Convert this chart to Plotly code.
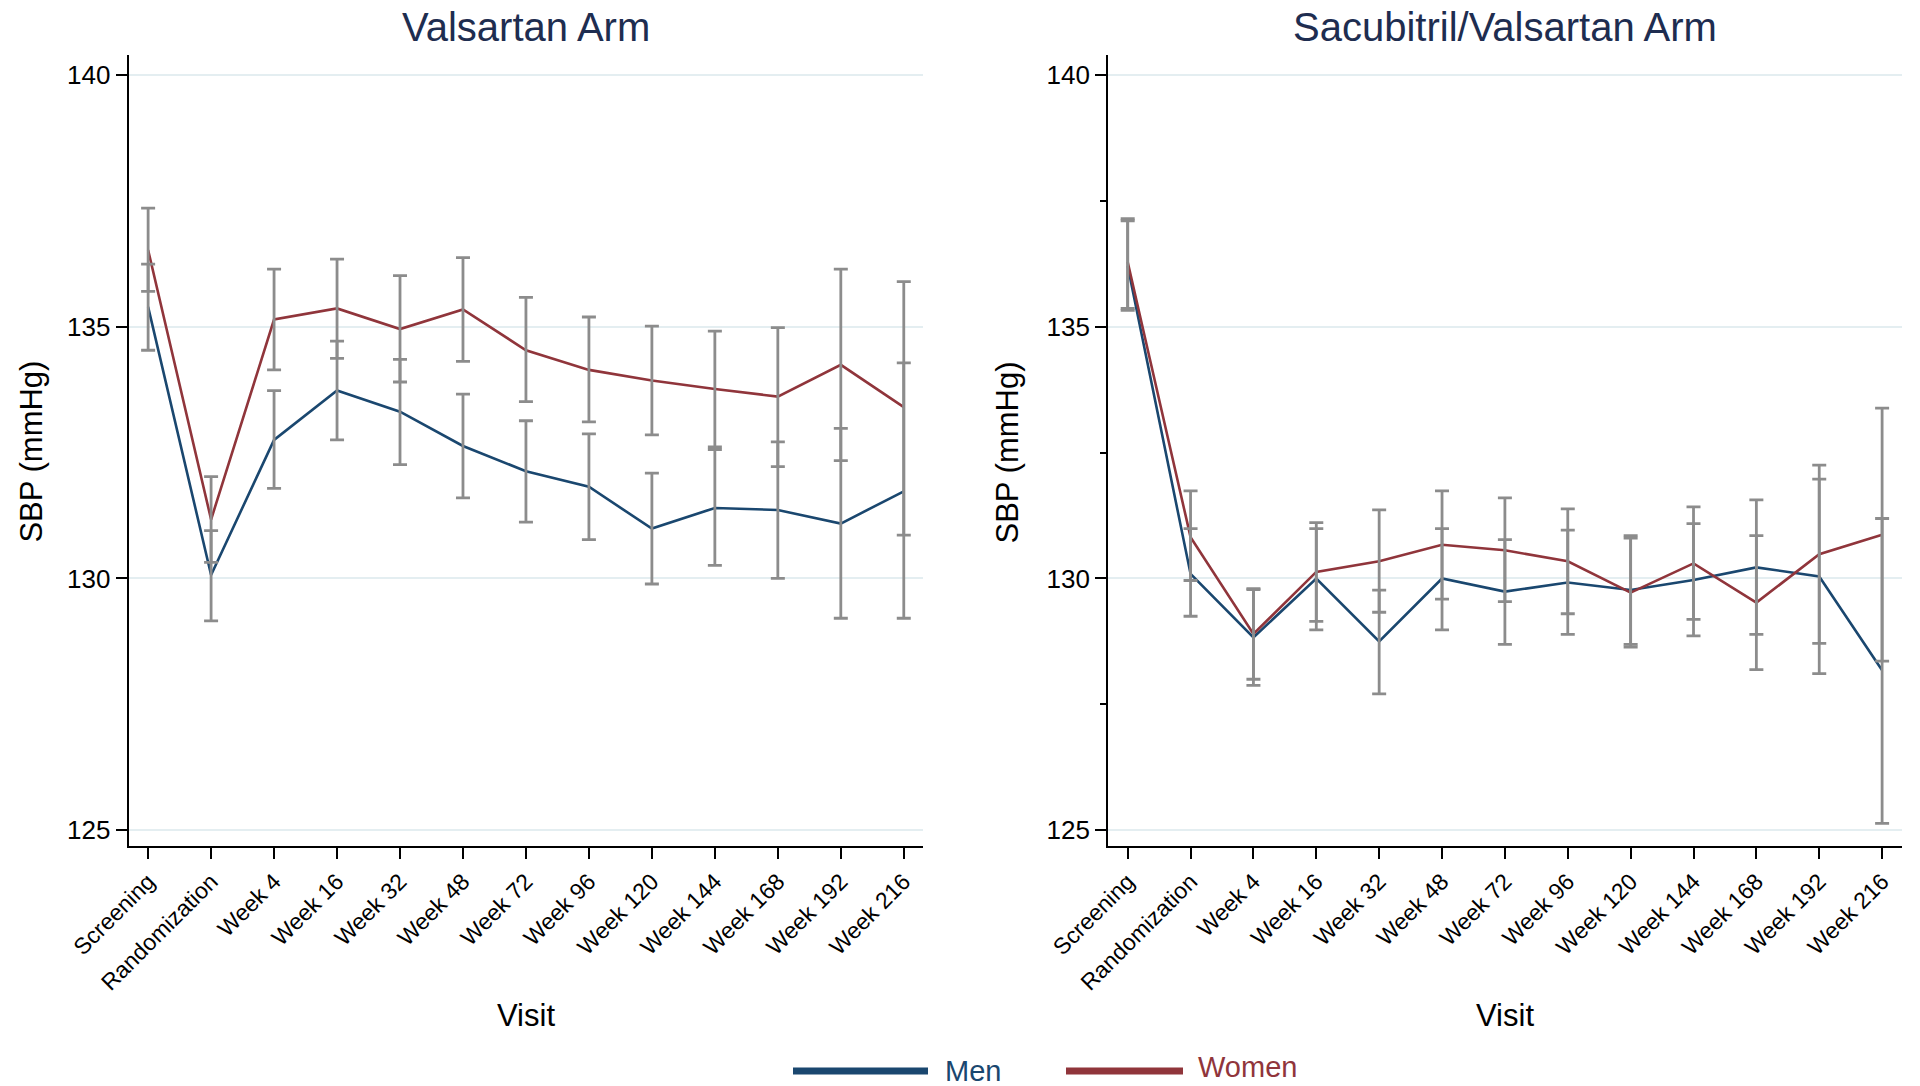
import plotly.graph_objects as go

# ---------------- data ----------------
visits = ["Screening", "Randomization", "Week 4", "Week 16", "Week 32", "Week 48",
          "Week 72", "Week 96", "Week 120", "Week 144", "Week 168", "Week 192", "Week 216"]

# Valsartan arm
val_men_mean = [135.39, 130.07, 132.75, 133.73, 133.31, 132.63, 132.13, 131.82, 130.99, 131.40, 131.36, 131.09, 131.73]
val_men_upper = [136.24, 130.95, 133.73, 134.71, 134.35, 133.66, 133.13, 132.87, 132.09, 132.56, 132.71, 132.98, 134.28]
val_men_lower = [134.53, 129.16, 131.79, 132.75, 132.26, 131.60, 131.12, 130.77, 129.89, 130.26, 130.00, 129.21, 129.21]

val_women_mean = [136.52, 131.17, 135.14, 135.36, 134.95, 135.34, 134.53, 134.14, 133.93, 133.76, 133.61, 134.24, 133.40]
val_women_upper = [137.35, 132.02, 136.14, 136.34, 136.01, 136.37, 135.58, 135.19, 135.01, 134.91, 134.98, 136.14, 135.89]
val_women_lower = [135.70, 130.32, 134.14, 134.37, 133.90, 134.31, 133.51, 133.11, 132.85, 132.61, 132.22, 132.34, 130.86]

# Sacubitril/Valsartan arm
sv_men_mean = [136.20, 130.09, 128.83, 130.00, 128.75, 130.00, 129.74, 129.92, 129.77, 129.97, 130.22, 130.04, 128.18]
sv_men_upper = [137.10, 130.99, 129.78, 130.99, 129.77, 130.99, 130.77, 130.96, 130.85, 131.09, 131.56, 131.97, 131.19]
sv_men_lower = [135.32, 129.25, 127.88, 128.98, 127.71, 128.98, 128.69, 128.89, 128.69, 128.86, 128.89, 128.11, 125.14]

sv_women_mean = [136.28, 130.82, 128.90, 130.13, 130.34, 130.67, 130.56, 130.34, 129.72, 130.30, 129.52, 130.48, 130.87]
sv_women_upper = [137.14, 131.74, 129.80, 131.11, 131.36, 131.74, 131.60, 131.38, 130.80, 131.42, 130.85, 132.25, 133.38]
sv_women_lower = [135.36, 129.96, 128.00, 129.15, 129.33, 129.59, 129.54, 129.30, 128.64, 129.19, 128.19, 128.71, 128.36]

y_ticks = [125, 130, 135, 140]
panel_titles = ["Valsartan Arm", "Sacubitril/Valsartan Arm"]
series_names = ["Men", "Women"]

# ---------------- style ----------------
MEN_COLOR = "#1a476f"
WOMEN_COLOR = "#90353b"
ERR_COLOR = "#8c8c8c"
TITLE_COLOR = "#1e2d50"
GRID_COLOR = "#e4eef1"
FONT = "Liberation Sans, Arial, sans-serif"
W, H = 1920, 1086

fig = go.Figure()

panels = [
    ("x", "y", [(val_men_mean, val_men_upper, val_men_lower, MEN_COLOR, "Men"),
                (val_women_mean, val_women_upper, val_women_lower, WOMEN_COLOR, "Women")]),
    ("x2", "y2", [(sv_men_mean, sv_men_upper, sv_men_lower, MEN_COLOR, "Men"),
                  (sv_women_mean, sv_women_upper, sv_women_lower, WOMEN_COLOR, "Women")]),
]

for xa, ya, series in panels:
    # lines
    for mean, up, lo, col, name in series:
        fig.add_trace(go.Scatter(x=visits, y=mean, mode="lines", name=name,
                                 line=dict(color=col, width=2.6),
                                 xaxis=xa, yaxis=ya, showlegend=False))
    # error bars on top
    for mean, up, lo, col, name in series:
        fig.add_trace(go.Scatter(
            x=visits, y=mean, mode="markers", name=name + " 95% CI",
            marker=dict(size=1, opacity=0),
            error_y=dict(type="data", symmetric=False,
                         array=[u - m for u, m in zip(up, mean)],
                         arrayminus=[m - l for m, l in zip(mean, lo)],
                         color=ERR_COLOR, thickness=2.8, width=7),
            xaxis=xa, yaxis=ya, showlegend=False, hoverinfo="skip"))

yr = [124.69, 140.39]
xr = [-0.31, 12.31]
ydom = [1 - 846 / H, 1 - 55 / H]
xdom1 = [128.6 / W, 923.3 / W]
xdom2 = [1108.2 / W, 1901.6 / W]

common_x = dict(type="category", range=xr, showline=True, linecolor="black", linewidth=2,
                ticks="outside", ticklen=11, tickwidth=1.5, tickcolor="black",
                tickangle=-45, tickfont=dict(family=FONT, size=23, color="black"),
                showgrid=False, zeroline=False, automargin=False)
common_y = dict(range=yr, tickvals=y_ticks, showline=True, linecolor="black", linewidth=2,
                ticks="outside", ticklen=11, tickwidth=1.5, tickcolor="black",
                tickfont=dict(family=FONT, size=26, color="black"),
                showgrid=True, gridcolor=GRID_COLOR, gridwidth=2, zeroline=False,
                automargin=False)

fig.update_layout(
    width=W, height=H,
    margin=dict(l=0, r=0, t=0, b=0, pad=0, autoexpand=False),
    paper_bgcolor="white", plot_bgcolor="white",
    showlegend=False,
    xaxis={**common_x, "domain": xdom1, "anchor": "y"},
    yaxis={**common_y, "domain": ydom, "anchor": "x"},
    xaxis2={**common_x, "domain": xdom2, "anchor": "y2"},
    yaxis2={**common_y, "domain": ydom, "anchor": "x2",
            "minor": dict(dtick=2.5, tick0=125, ticks="outside", ticklen=6,
                          tickwidth=1.5, tickcolor="black", showgrid=False)},
)

annotations = []
centers = [(xdom1[0] + xdom1[1]) / 2, (xdom2[0] + xdom2[1]) / 2]
for cx, title in zip(centers, panel_titles):
    annotations.append(dict(text=title, x=cx, y=1 - 27 / H, xref="paper", yref="paper",
                            xanchor="center", yanchor="middle", showarrow=False,
                            font=dict(family=FONT, size=40, color=TITLE_COLOR)))
    annotations.append(dict(text="Visit", x=cx, y=1 - 1015 / H, xref="paper", yref="paper",
                            xanchor="center", yanchor="middle", showarrow=False,
                            font=dict(family=FONT, size=31, color="black")))
for ax_x in [30.6 / W, 1006.5 / W]:
    annotations.append(dict(text="SBP (mmHg)", x=ax_x, y=1 - 452 / H, xref="paper", yref="paper",
                            xanchor="center", yanchor="middle", showarrow=False, textangle=-90,
                            font=dict(family=FONT, size=31, color="black")))

# custom legend (long line keys as in the original)
legend_items = [(series_names[0], MEN_COLOR, 793, 928, 943, 1071),
                (series_names[1], WOMEN_COLOR, 1066, 1183, 1196, 1067)]
shapes = []
for name, col, lx0, lx1, tx, ty in legend_items:
    shapes.append(dict(type="line", xref="paper", yref="paper",
                       x0=lx0 / W, x1=lx1 / W, y0=1 - 1071 / H, y1=1 - 1071 / H,
                       line=dict(color=col, width=7)))
    annotations.append(dict(text=name, x=tx / W, y=1 - ty / H, xref="paper", yref="paper",
                            xanchor="left", yanchor="middle", showarrow=False,
                            font=dict(family=FONT, size=29, color=col)))

fig.update_layout(annotations=annotations, shapes=shapes)

fig.write_html("out.html", config={"displayModeBar": False},
               post_script="document.body.style.margin='0';document.body.style.overflow='hidden';")
